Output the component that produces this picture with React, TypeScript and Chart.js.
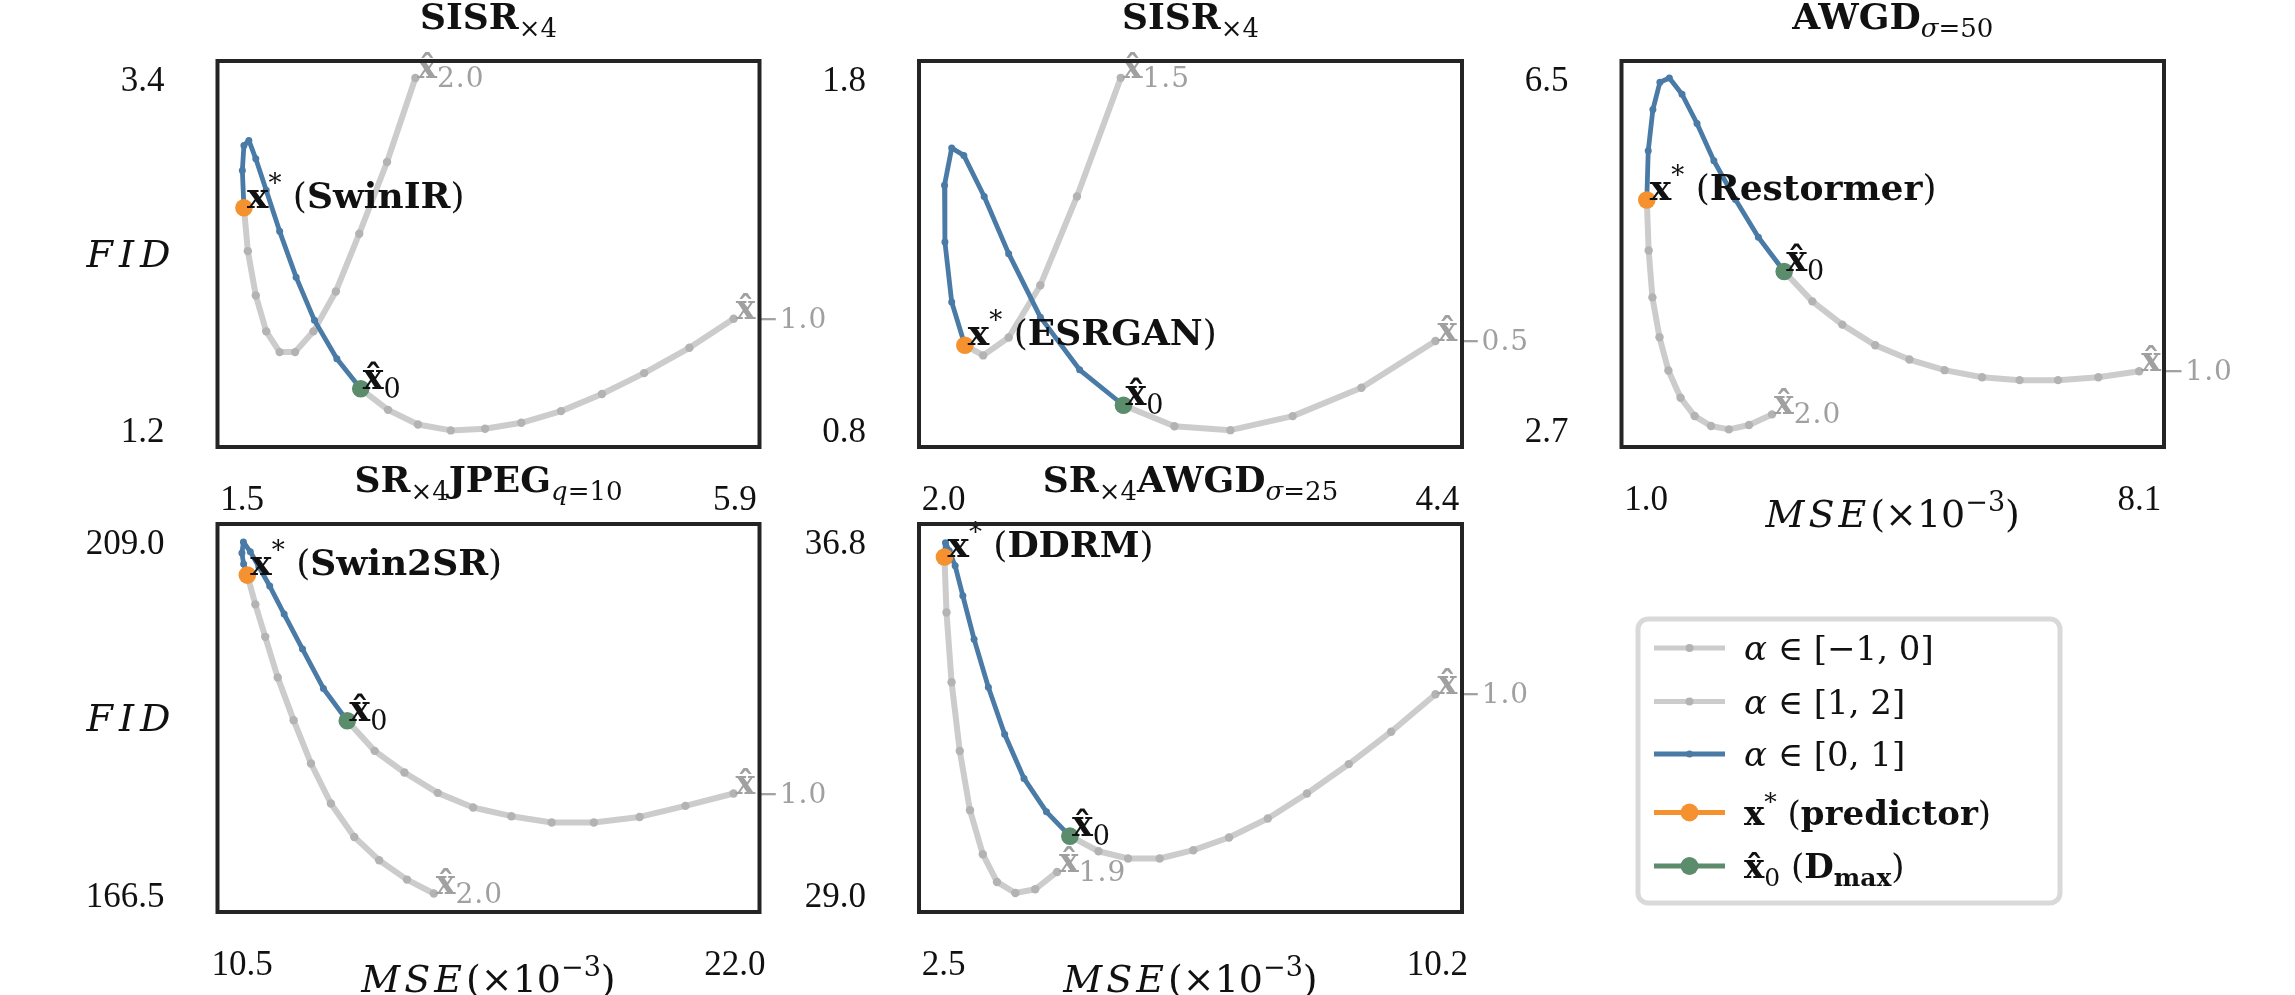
import { useEffect, useRef } from "react";
import { Chart, registerables } from "chart.js";

Chart.register(...registerables);

const PAGE_W = 2295;
const PAGE_H = 995;

// ---------------- data (alpha runs from 0 -> 1 for blue, 1 -> end for pos, 0 -> end for neg) ----------------
// Panel 1: SISR x4, SwinIR
const p1BlueX = [2.559, 2.346, 2.146, 1.982, 1.835, 1.715, 1.622, 1.56, 1.516, 1.502, 1.516];
const p1BlueY = [1.455, 1.643, 1.884, 2.155, 2.442, 2.699, 2.897, 3.012, 2.981, 2.824, 2.59];
const p1PosX = [1.516, 1.551, 1.622, 1.715, 1.835, 1.973, 2.137, 2.337, 2.546, 2.794, 3.047];
const p1PosY = [2.59, 2.318, 2.04, 1.815, 1.685, 1.685, 1.815, 2.065, 2.427, 2.877, 3.403];
const p1NegX = [2.559, 2.803, 3.07, 3.363, 3.669, 3.993, 4.348, 4.713, 5.09, 5.494, 5.889];
const p1NegY = [1.455, 1.323, 1.231, 1.194, 1.204, 1.242, 1.315, 1.422, 1.553, 1.712, 1.894];
const p1XTicks = [1.5, 5.9];
const p1YTicks = [1.2, 3.4];
const p1EndLabels = ["2.0", "\u22121.0"];

// Panel 2: SISR x4, ESRGAN
const p2BlueX = [2.874, 2.661, 2.47, 2.316, 2.197, 2.098, 2.039, 2.004, 2.006, 2.039, 2.103];
const p2BlueY = [0.869, 0.97, 1.12, 1.301, 1.464, 1.581, 1.602, 1.496, 1.334, 1.163, 1.04];
const p2PosX = [2.103, 2.192, 2.316, 2.47, 2.648, 2.861];
const p2PosY = [1.04, 1.011, 1.062, 1.211, 1.464, 1.802];
const p2NegX = [2.874, 3.122, 3.394, 3.697, 4.031, 4.391];
const p2NegY = [0.869, 0.809, 0.798, 0.838, 0.919, 1.052];
const p2XTicks = [2.0, 4.4];
const p2YTicks = [0.8, 1.8];
const p2EndLabels = ["1.5", "\u22120.5"];

// Panel 3: AWGD sigma=50, Restormer
const p3BlueX = [2.987, 2.616, 2.285, 1.975, 1.732, 1.516, 1.334, 1.198, 1.097, 1.03, 1.009];
const p3BlueY = [4.411, 4.782, 5.19, 5.61, 6.013, 6.33, 6.506, 6.46, 6.164, 5.718, 5.185];
const p3PosX = [1.009, 1.036, 1.09, 1.192, 1.32, 1.495, 1.698, 1.934, 2.191, 2.481, 2.812];
const p3PosY = [5.185, 4.638, 4.13, 3.698, 3.338, 3.043, 2.845, 2.737, 2.701, 2.748, 2.863];
const p3NegX = [2.987, 3.392, 3.824, 4.297, 4.79, 5.296, 5.836, 6.376, 6.93, 7.51, 8.098];
const p3NegY = [4.411, 4.087, 3.835, 3.612, 3.457, 3.342, 3.266, 3.234, 3.234, 3.266, 3.331];
const p3XTicks = [1.0, 8.1];
const p3YTicks = [2.7, 6.5];
const p3EndLabels = ["2.0", "\u22121.0"];

// Panel 4: SR x4 JPEG q=10, Swin2SR
const p4BlueX = [12.954, 12.397, 11.909, 11.48, 11.144, 10.89, 10.691, 10.53, 10.495, 10.535, 10.621];
const p4BlueY = [187.41, 191.31, 196.05, 200.27, 203.65, 205.97, 207.78, 208.96, 207.63, 206.3, 204.97];
const p4PosX = [10.621, 10.808, 11.039, 11.33, 11.701, 12.107, 12.571, 13.117, 13.698, 14.347, 14.974];
const p4PosY = [204.97, 201.44, 197.53, 192.64, 187.49, 182.27, 177.45, 173.42, 170.61, 168.28, 166.6];
const p4NegX = [12.954, 13.593, 14.288, 15.065, 15.891, 16.784, 17.724, 18.709, 19.777, 20.846, 21.97];
const p4NegY = [187.41, 183.79, 181.18, 178.73, 176.96, 175.92, 175.16, 175.16, 175.83, 177.16, 178.65];
const p4XTicks = [10.5, 22.0];
const p4YTicks = [166.5, 209.0];
const p4EndLabels = ["2.0", "\u22121.0"];

// Panel 5: SR x4 AWGD sigma=25, DDRM
const p5BlueX = [4.469, 4.103, 3.753, 3.451, 3.197, 2.974, 2.799, 2.679, 2.586, 2.528, 2.512];
const p5BlueY = [30.287, 30.825, 31.564, 32.539, 33.58, 34.643, 35.602, 36.266, 36.598, 36.776, 36.459];
const p5PosX = [2.512, 2.544, 2.623, 2.751, 2.91, 3.11, 3.331, 3.618, 3.928, 4.269];
const p5PosY = [36.459, 35.232, 33.691, 32.169, 30.862, 29.888, 29.275, 29.031, 29.113, 29.496];
const p5NegX = [4.469, 4.915, 5.376, 5.869, 6.394, 6.951, 7.556, 8.167, 8.82, 9.48, 10.172];
const p5NegY = [30.287, 29.954, 29.793, 29.793, 29.977, 30.258, 30.679, 31.232, 31.881, 32.597, 33.425];
const p5XTicks = [2.5, 10.2];
const p5YTicks = [29.0, 36.8];
const p5EndLabels = ["1.9", "\u22121.0"];

const predictorNames = ["SwinIR", "ESRGAN", "Restormer", "Swin2SR", "DDRM"];

// ---------------- style ----------------
const CM = '"DejaVu Serif", "Liberation Serif", serif';
const TM = '"Liberation Serif", "Times New Roman", serif';
const GRAY_LINE = "#cccccc";
const GRAY_DOT = "#b3b3b3";
const BLUE = "#4a7aa6";
const ORANGE = "#f5922f";
const GREEN = "#5b8c6c";
const GRAY_TEXT = "#a0a0a0";
const FRAME = "#242424";
const TEXT = "#111111";

const fnt = (size: number, style = "") => `${style} ${size}px ${CM}`.trim();

type Box = { l: number; t: number; r: number; b: number };
type Run = { t: string; f: string; dy?: number; hat?: boolean; ls?: number; c?: string };

const BOXES: Box[] = [
  { l: 217.5, t: 61, r: 759.5, b: 447 },
  { l: 919, t: 61, r: 1462, b: 447 },
  { l: 1621.5, t: 61, r: 2164, b: 447 },
  { l: 217.5, t: 524, r: 759.5, b: 912 },
  { l: 919, t: 524, r: 1462, b: 912 },
];

const TB = fnt(36, "bold");
const TS = fnt(26);
const TSI = fnt(26, "italic");
const titleRuns: Run[][] = [
  [{ t: "SISR", f: TB }, { t: "\u00d74", f: TS, dy: 8 }],
  [{ t: "SISR", f: TB }, { t: "\u00d74", f: TS, dy: 8 }],
  [{ t: "AWGD", f: TB }, { t: "\u03c3", f: TSI, dy: 8 }, { t: "=50", f: TS, dy: 8 }],
  [
    { t: "SR", f: TB },
    { t: "\u00d74", f: TS, dy: 8 },
    { t: "JPEG", f: TB },
    { t: "q", f: TSI, dy: 8 },
    { t: "=10", f: TS, dy: 8 },
  ],
  [
    { t: "SR", f: TB },
    { t: "\u00d74", f: TS, dy: 8 },
    { t: "AWGD", f: TB },
    { t: "\u03c3", f: TSI, dy: 8 },
    { t: "=25", f: TS, dy: 8 },
  ],
];

const panels = [
  { box: BOXES[0], blueX: p1BlueX, blueY: p1BlueY, posX: p1PosX, posY: p1PosY, negX: p1NegX, negY: p1NegY, xTicks: p1XTicks, yTicks: p1YTicks, ends: p1EndLabels, name: predictorNames[0], title: titleRuns[0], yLabel: true, xLabel: false },
  { box: BOXES[1], blueX: p2BlueX, blueY: p2BlueY, posX: p2PosX, posY: p2PosY, negX: p2NegX, negY: p2NegY, xTicks: p2XTicks, yTicks: p2YTicks, ends: p2EndLabels, name: predictorNames[1], title: titleRuns[1], yLabel: false, xLabel: false },
  { box: BOXES[2], blueX: p3BlueX, blueY: p3BlueY, posX: p3PosX, posY: p3PosY, negX: p3NegX, negY: p3NegY, xTicks: p3XTicks, yTicks: p3YTicks, ends: p3EndLabels, name: predictorNames[2], title: titleRuns[2], yLabel: false, xLabel: true },
  { box: BOXES[3], blueX: p4BlueX, blueY: p4BlueY, posX: p4PosX, posY: p4PosY, negX: p4NegX, negY: p4NegY, xTicks: p4XTicks, yTicks: p4YTicks, ends: p4EndLabels, name: predictorNames[3], title: titleRuns[3], yLabel: true, xLabel: true },
  { box: BOXES[4], blueX: p5BlueX, blueY: p5BlueY, posX: p5PosX, posY: p5PosY, negX: p5NegX, negY: p5NegY, xTicks: p5XTicks, yTicks: p5YTicks, ends: p5EndLabels, name: predictorNames[4], title: titleRuns[4], yLabel: false, xLabel: true },
];

type Panel = (typeof panels)[number];

// ---------------- text helper ----------------
function drawRuns(ctx: CanvasRenderingContext2D, runs: Run[], x: number, y: number, align: "left" | "center" | "right", color: string) {
  ctx.save();
  ctx.textAlign = "left";
  ctx.textBaseline = "alphabetic";
  const widths = runs.map((r) => {
    ctx.font = r.f;
    (ctx as any).letterSpacing = `${r.ls ?? 0}px`;
    return ctx.measureText(r.t).width;
  });
  const total = widths.reduce((a, b) => a + b, 0);
  let cx = align === "center" ? x - total / 2 : align === "right" ? x - total : x;
  runs.forEach((r, i) => {
    ctx.font = r.f;
    (ctx as any).letterSpacing = `${r.ls ?? 0}px`;
    ctx.fillStyle = r.c ?? color;
    const yy = y + (r.dy ?? 0);
    ctx.fillText(r.t, cx, yy);
    if (r.hat) {
      (ctx as any).letterSpacing = "0px";
      ctx.textAlign = "center";
      ctx.fillText("\u02c6", cx + widths[i] / 2, yy + 1);
      ctx.textAlign = "left";
    }
    cx += widths[i];
  });
  ctx.restore();
}

// ---------------- legend ----------------
const LF = 34;
const legendRows: { color: string; lw: number; r: number; dot: string; runs: Run[] }[] = [
  {
    color: GRAY_LINE, lw: 5, r: 4, dot: GRAY_DOT,
    runs: [{ t: "\u03b1", f: fnt(LF, "italic") }, { t: " \u2208 ", f: fnt(LF) }, { t: "[\u22121, 0]", f: fnt(LF) }],
  },
  {
    color: GRAY_LINE, lw: 5, r: 4, dot: GRAY_DOT,
    runs: [{ t: "\u03b1", f: fnt(LF, "italic") }, { t: " \u2208 ", f: fnt(LF) }, { t: "[1, 2]", f: fnt(LF) }],
  },
  {
    color: BLUE, lw: 5, r: 3.5, dot: BLUE,
    runs: [{ t: "\u03b1", f: fnt(LF, "italic") }, { t: " \u2208 ", f: fnt(LF) }, { t: "[0, 1]", f: fnt(LF) }],
  },
  {
    color: ORANGE, lw: 5, r: 9, dot: ORANGE,
    runs: [
      { t: "x", f: fnt(LF, "bold") },
      { t: "*", f: fnt(25), dy: -15 },
      { t: " (", f: fnt(LF) },
      { t: "predictor", f: fnt(LF, "bold") },
      { t: ")", f: fnt(LF) },
    ],
  },
  {
    color: GREEN, lw: 5, r: 9, dot: GREEN,
    runs: [
      { t: "x", f: fnt(LF, "bold"), hat: true },
      { t: "0", f: fnt(25), dy: 8 },
      { t: " (", f: fnt(LF) },
      { t: "D", f: fnt(LF, "bold") },
      { t: "max", f: fnt(25, "bold"), dy: 8 },
      { t: ")", f: fnt(LF) },
    ],
  },
];
const LEGEND_BOX = { x: 1638, y: 619, w: 422, h: 284 };
const LEGEND_ROW_Y = [648, 701.5, 754, 812.5, 866];

function drawLegend(ctx: CanvasRenderingContext2D) {
  ctx.save();
  const { x, y, w, h } = LEGEND_BOX;
  ctx.beginPath();
  (ctx as any).roundRect(x, y, w, h, 10);
  ctx.fillStyle = "#ffffff";
  ctx.fill();
  ctx.lineWidth = 5;
  ctx.strokeStyle = "#d9d9d9";
  ctx.stroke();
  const lx0 = x + 16;
  const lx1 = x + 87;
  legendRows.forEach((row, i) => {
    const yy = LEGEND_ROW_Y[i];
    ctx.beginPath();
    ctx.moveTo(lx0, yy);
    ctx.lineTo(lx1, yy);
    ctx.strokeStyle = row.color;
    ctx.lineWidth = row.lw;
    ctx.stroke();
    ctx.beginPath();
    ctx.arc((lx0 + lx1) / 2, yy, row.r, 0, Math.PI * 2);
    ctx.fillStyle = row.dot;
    ctx.fill();
    drawRuns(ctx, row.runs, x + 106, yy + 12, "left", TEXT);
  });
  ctx.restore();
}

// ---------------- chart ----------------
const YAXW = 160;
const XAXH = 85;

function makeChart(canvas: HTMLCanvasElement, p: Panel, withLegend: boolean) {
  const pts = (xs: number[], ys: number[]) => xs.map((x, i) => ({ x, y: ys[i] }));
  const blue = pts(p.blueX, p.blueY);
  const pos = pts(p.posX, p.posY);
  const neg = pts(p.negX, p.negY);
  const xr = p.xTicks[1] - p.xTicks[0];
  const yr = p.yTicks[1] - p.yTicks[0];
  const { l, t, r, b } = p.box;

  const overlay = {
    id: "overlay" + p.name,
    afterDatasetsDraw(chart: any) {
      const ctx: CanvasRenderingContext2D = chart.ctx;
      const xs = chart.scales.x;
      const ys = chart.scales.y;
      const X = (v: number) => xs.getPixelForValue(v);
      const Y = (v: number) => ys.getPixelForValue(v);
      const endPos = pos[pos.length - 1];
      const endNeg = neg[neg.length - 1];
      const grayRuns = (lab: string): Run[] => [
        { t: "x", f: fnt(33, "bold"), hat: true },
        { t: lab, f: fnt(28), dy: 9, ls: 1 },
      ];
      drawRuns(ctx, grayRuns(p.ends[0]), X(endPos.x) + 2, Y(endPos.y), "left", GRAY_TEXT);
      drawRuns(ctx, grayRuns(p.ends[1]), X(endNeg.x) + 2, Y(endNeg.y), "left", GRAY_TEXT);
      const star = blue[blue.length - 1];
      drawRuns(
        ctx,
        [
          { t: "x", f: fnt(36, "bold") },
          { t: "*", f: fnt(26), dy: -16 },
          { t: " (", f: fnt(36) },
          { t: p.name, f: fnt(36, "bold") },
          { t: ")", f: fnt(36) },
        ],
        X(star.x) + 3,
        Y(star.y),
        "left",
        TEXT
      );
      const zero = blue[0];
      drawRuns(
        ctx,
        [
          { t: "x", f: fnt(35, "bold"), hat: true },
          { t: "0", f: fnt(27), dy: 9 },
        ],
        X(zero.x) + 2,
        Y(zero.y),
        "left",
        TEXT
      );
    },
    afterDraw(chart: any) {
      const ctx: CanvasRenderingContext2D = chart.ctx;
      const ca = chart.chartArea;
      ctx.save();
      ctx.strokeStyle = FRAME;
      ctx.lineWidth = 4;
      ctx.strokeRect(ca.left, ca.top, ca.right - ca.left, ca.bottom - ca.top);
      ctx.restore();
      const cx = (ca.left + ca.right) / 2;
      drawRuns(ctx, p.title, cx, ca.top - 32, "center", TEXT);
      if (p.yLabel) {
        drawRuns(ctx, [{ t: "FID", f: fnt(38, "italic"), ls: 6 }], ca.left - 86, (ca.top + ca.bottom) / 2 + 13, "center", TEXT);
      }
      if (p.xLabel) {
        drawRuns(
          ctx,
          [
            { t: "MSE", f: fnt(38, "italic"), ls: 4 },
            { t: "(\u00d710", f: fnt(38) },
            { t: "\u22123", f: fnt(27), dy: -16 },
            { t: ")", f: fnt(38) },
          ],
          cx,
          ca.bottom + 80,
          "center",
          TEXT
        );
      }
      if (withLegend) drawLegend(ctx);
    },
  };

  const tickFont = { family: TM, size: 35, lineHeight: 1.2 };

  return new Chart(canvas, {
    type: "scatter",
    data: {
      datasets: [
        { label: "x0", data: [blue[0]], pointRadius: 8.8, pointBackgroundColor: GREEN, pointBorderWidth: 0, showLine: false },
        { label: "xstar", data: [blue[blue.length - 1]], pointRadius: 8.8, pointBackgroundColor: ORANGE, pointBorderWidth: 0, showLine: false },
        { label: "a01", data: blue, showLine: true, borderColor: BLUE, borderWidth: 4.8, pointRadius: 3.5, pointBackgroundColor: BLUE, pointBorderWidth: 0, borderJoinStyle: "round", borderCapStyle: "round" },
        { label: "a12", data: pos, showLine: true, borderColor: GRAY_LINE, borderWidth: 6, pointRadius: 4.2, pointBackgroundColor: GRAY_DOT, pointBorderWidth: 0, borderJoinStyle: "round", borderCapStyle: "round" },
        { label: "am10", data: neg, showLine: true, borderColor: GRAY_LINE, borderWidth: 6, pointRadius: 4.2, pointBackgroundColor: GRAY_DOT, pointBorderWidth: 0, borderJoinStyle: "round", borderCapStyle: "round" },
      ] as any,
    },
    options: {
      responsive: false,
      animation: false,
      events: [],
      layout: { padding: { left: l - YAXW, top: t, right: PAGE_W - r, bottom: PAGE_H - b - XAXH } },
      plugins: { legend: { display: false }, tooltip: { enabled: false }, title: { display: false } },
      scales: {
        x: {
          type: "linear",
          min: p.xTicks[0] - 0.05 * xr,
          max: p.xTicks[1] + 0.05 * xr,
          grid: { display: false, drawTicks: false },
          border: { display: false },
          afterBuildTicks: (ax: any) => {
            ax.ticks = p.xTicks.map((v) => ({ value: v }));
          },
          afterFit: (ax: any) => {
            ax.height = XAXH;
            ax.paddingLeft = 0;
            ax.paddingRight = 0;
          },
          ticks: {
            padding: 33,
            font: tickFont,
            color: TEXT,
            maxRotation: 0,
            minRotation: 0,
            autoSkip: false,
            callback: (v: any) => Number(v).toFixed(1),
          },
        },
        y: {
          type: "linear",
          min: p.yTicks[0] - 0.05 * yr,
          max: p.yTicks[1] + 0.05 * yr,
          grid: { display: false, drawTicks: false },
          border: { display: false },
          afterBuildTicks: (ax: any) => {
            ax.ticks = p.yTicks.map((v) => ({ value: v }));
          },
          afterFit: (ax: any) => {
            ax.width = YAXW;
            ax.paddingTop = 0;
            ax.paddingBottom = 0;
          },
          ticks: {
            padding: 53,
            labelOffset: 3,
            font: tickFont,
            color: TEXT,
            autoSkip: false,
            callback: (v: any) => Number(v).toFixed(1),
          },
        },
      },
    } as any,
    plugins: [overlay],
  });
}

export default function App() {
  const refs = useRef<(HTMLCanvasElement | null)[]>([]);
  useEffect(() => {
    const charts = panels.map((p, i) => makeChart(refs.current[i]!, p, i === panels.length - 1));
    return () => charts.forEach((c) => c.destroy());
  }, []);
  return (
    <div style={{ position: "absolute", left: 0, top: 0, width: PAGE_W, height: PAGE_H, background: "#ffffff", overflow: "hidden" }}>
      {panels.map((p, i) => (
        <canvas
          key={p.name}
          ref={(el) => {
            refs.current[i] = el;
          }}
          width={PAGE_W}
          height={PAGE_H}
          style={{ position: "absolute", left: 0, top: 0, width: PAGE_W, height: PAGE_H }}
        />
      ))}
    </div>
  );
}
